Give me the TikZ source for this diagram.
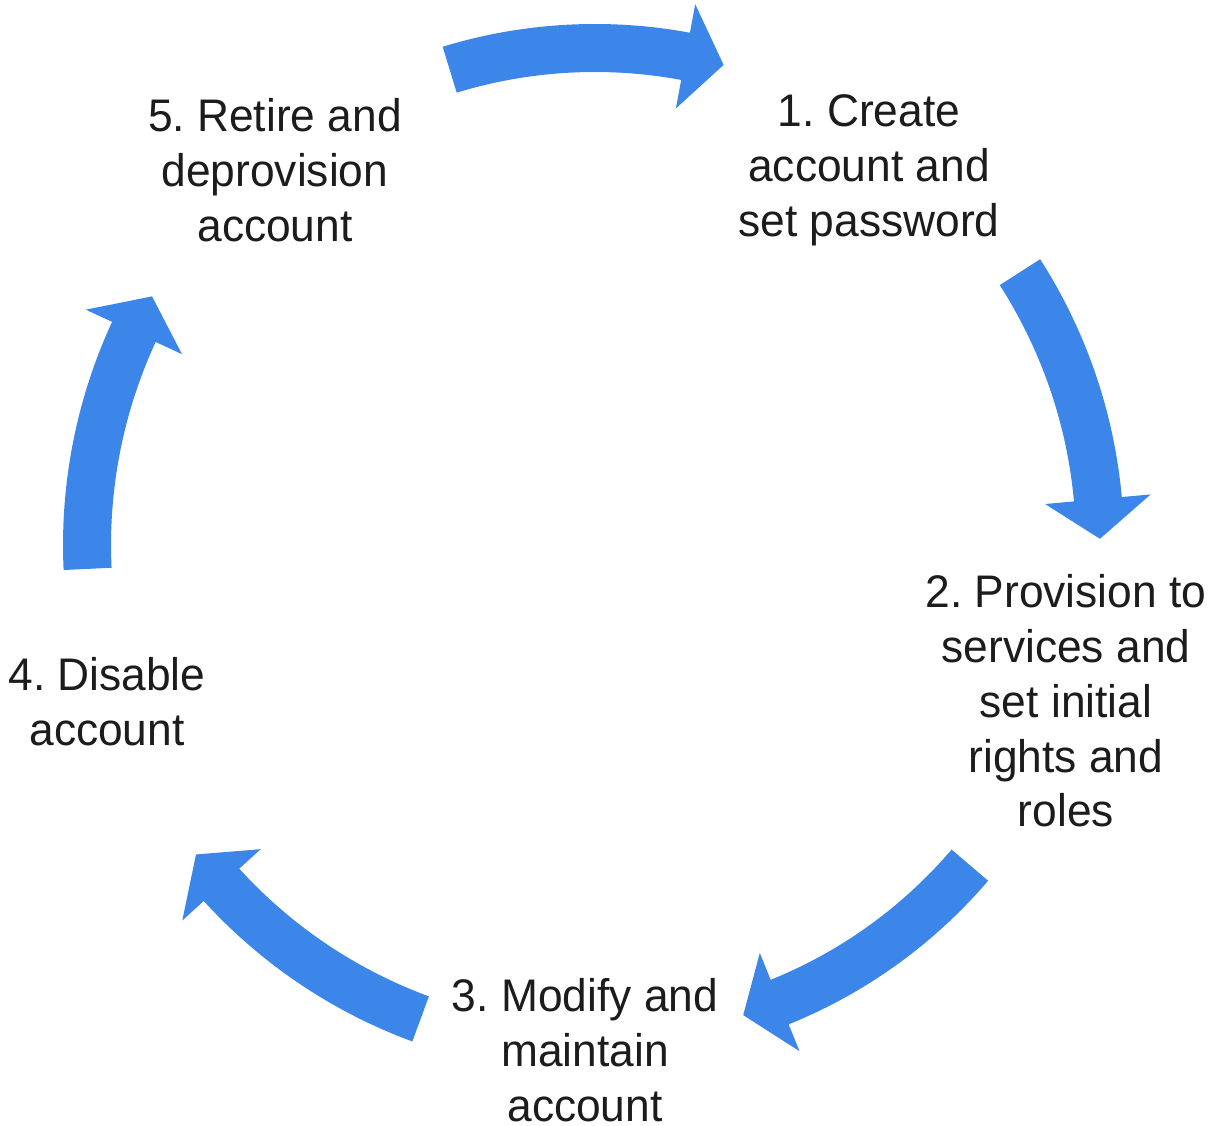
\documentclass[tikz,border=0pt]{standalone}
\usepackage{fontspec}
\setmainfont{Liberation Sans}[FakeStretch=0.97]
\usepackage{tikz}
\usetikzlibrary{positioning}
\definecolor{CycleBlue}{HTML}{3C86EA}
\definecolor{CycleInk}{HTML}{1C1C1C}
\frenchspacing

\begin{document}
\begin{tikzpicture}[
    step label/.style={align=center,text=CycleInk,inner sep=0pt,
      font=\fontsize{13}{15.6}\selectfont}
  ]
  \useasboundingbox (0,0) rectangle (12.17,11.26);
  \coordinate (hub) at (5.95,5.81);

  % five curved arrows round the hub
  \begin{scope}[shift={(hub)}]
    \foreach \m/\r in {
      91/4.97,
      16.7/5.05,
      -56.5/4.93,
      -126.2/5.05,
      166.7/5.08
    }{
      \fill[CycleBlue]
        (\m+16:\r+0.24) arc[start angle=\m+16,end angle=\m-11.5,radius=\r+0.24]
        -- (\m-11.5:\r+0.53) -- (\m-16:\r) -- (\m-11.5:\r-0.53)
        -- (\m-11.5:\r-0.24)
        arc[start angle=\m-11.5,end angle=\m+16,radius=\r-0.24] -- cycle;
    }
  \end{scope}

  \node[step label] (step1) at (8.69,9.56) {1. Create\\account and\\set password};
  \node[step label] (step2) at (10.66,4.25) {2. Provision to\\services and\\set initial\\rights and\\roles};
  \node[step label] (step3) at (5.85,0.76) {3. Modify and\\maintain\\account};
  \node[step label] (step4) at (1.07,4.24) {4. Disable\\account};
  \node[step label] (step5) at (2.75,9.56) {5. Retire and\\deprovision\\account};
\end{tikzpicture}
\end{document}
